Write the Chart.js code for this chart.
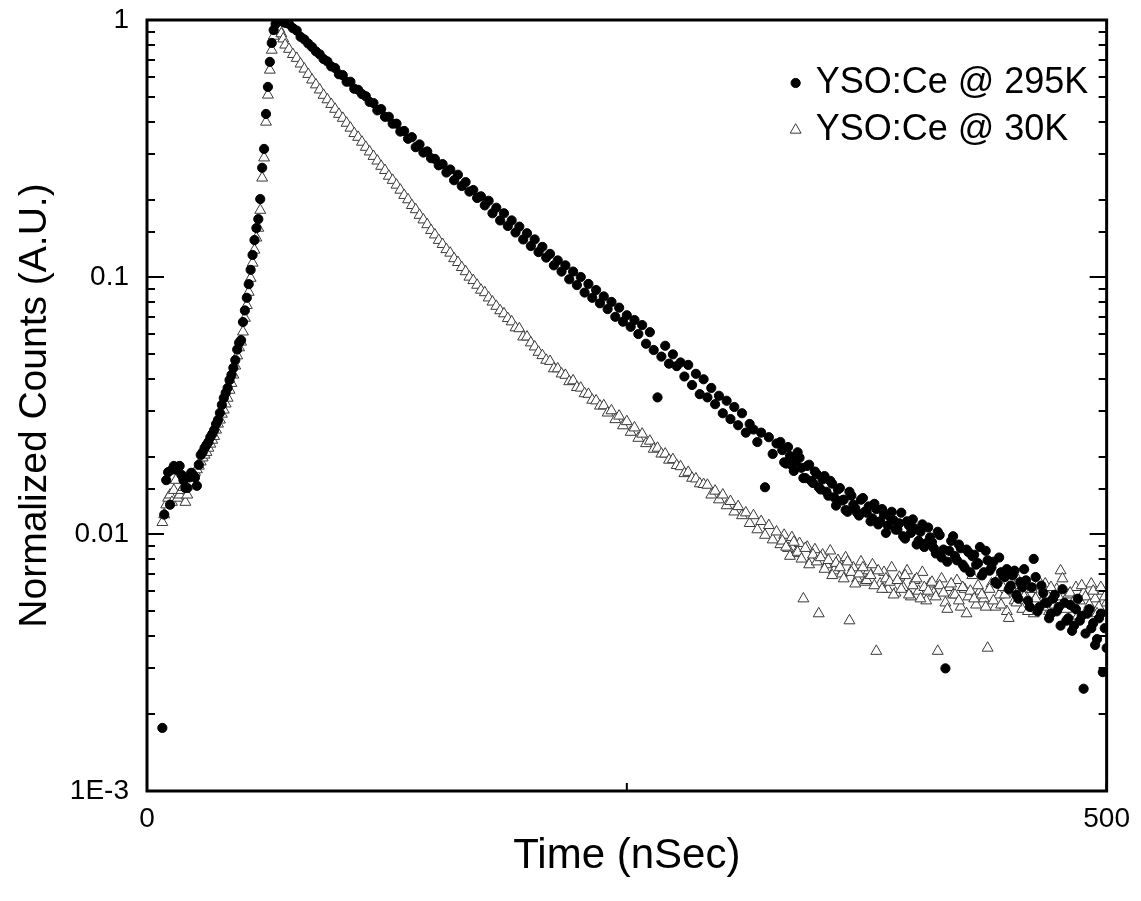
<!DOCTYPE html>
<html><head><meta charset="utf-8">
<script src="https://cdn.jsdelivr.net/npm/chart.js@4/dist/chart.umd.min.js"></script>
<style>html,body{margin:0;padding:0;background:#fff}#wrap{width:1141px;height:901px}</style>
</head><body><div id="wrap"><canvas id="c" width="1141" height="901"></canvas></div>
<script>
// ---- data (time in ns) ----
const riseTime = [8,9,10,11,12,13,14,15,16,17,18,19,20,21,22,23,24,25,26,27,28,29,30,31,32,33,34,35,36,37,38,39,
  40,41,42,43,44,45,46,47,48,49,50,51,52,53,54,55,56,57,58,59,60,61,62,63,64,65,66,67,68,69,70,71];
const decayTime = [72,74,76,78,80,82,84,86,88,90, 92,94,96,98,100,102,104,106,108,110,
  112,114,116,118,120,122,124,126,128,130, 132,134,136,138,140,142,144,146,148,150,
  152,154,156,158,160,162,164,166,168,170, 172,174,176,178,180,182,184,186,188,190,
  192,194,196,198,200,202,204,206,208,210, 212,214,216,218,220,222,224,226,228,230,
  232,234,236,238,240,242,244,246,248,250, 252,254,256,258,260,262,264,266,268,270,
  272,274,276,278,280,282,284,286,288,290, 292,294,296,298,300,302,304,306,308,310,
  312,314,316,318,320,322,324,326,328,330, 332,334,336,338,340,342,344,346,348,350,
  352,354,356,358,360,362,364,366,368,370, 372,374,376,378,380,382,384,386,388,390,
  392,394,396,398,400,402,404,406,408,410, 412,414,416,418,420,422,424,426,428,430,
  432,434,436,438,440,442,444,446,448,450, 452,454,456,458,460,462,464,466,468,470,
  472,474,476,478,480,482,484,486,488,490, 492,494,496,498,500];
const tailTime = [331,333,335,337,339,341,343,345,347,349, 351,353,355,357,359,361,363,365,367,369,
  371,373,375,377,379,381,383,385,387,389, 391,393,395,397,399,401,403,405,407,409,
  411,413,415,417,419,421,423,425,427,429, 431,433,435,437,439,441,443,445,447,449,
  451,453,455,457,459,461,463,465,467,469, 471,473,475,477,479,481,483,485,487,489,
  491,493,495,497,499];

const rise295 = [0.00176,0.0119,0.0162,0.0174,0.0130,0.0178,0.0184,0.0178,
  0.0181,0.0184,0.0170,0.0162,0.0151,0.0151,0.0166,0.0173,
  0.0170,0.0166,0.0154,0.0186,0.0203,0.0208,0.0216,0.0222,
  0.0228,0.0238,0.0245,0.0254,0.0268,0.0278,0.0296,0.0318,
  0.0338,0.0354,0.0370,0.0397,0.0416,0.0443,0.0475,0.0522,
  0.0555,0.0568,0.0668,0.0741,0.0830,0.0938,0.1066,0.1218,
  0.1392,0.155,0.168,0.201,0.266,0.315,0.431,0.549,
  0.687,0.814,0.914,0.965,0.991,1.0,0.995,0.985];
const decay295 = [0.975,0.965,0.93,0.91,0.86,0.84,0.81,0.785,0.755,0.735,
  0.705,0.69,0.66,0.65,0.615,0.61,0.575,0.575,0.54,0.535,
  0.515,0.505,0.48,0.475,0.445,0.45,0.42,0.42,0.395,0.395,
  0.368,0.37,0.345,0.35,0.32,0.328,0.305,0.308,0.29,0.288,
  0.272,0.275,0.255,0.262,0.238,0.25,0.226,0.234,0.215,0.218,
  0.203,0.206,0.19,0.198,0.177,0.186,0.166,0.177,0.158,0.166,
  0.149,0.157,0.14,0.148,0.132,0.14,0.125,0.131,0.119,0.123,
  0.111,0.116,0.105,0.111,0.098,0.105,0.093,0.1,0.087,0.094,
  0.083,0.089,0.079,0.084,0.075,0.08,0.07,0.076,0.067,0.071,
  0.064,0.068,0.06,0.065,0.055,0.061,0.052,0.034,0.049,0.054,
  0.046,0.05,0.045,0.0465,0.041,0.0455,0.038,0.042,0.035,0.04,
  0.034,0.037,0.032,0.0345,0.0295,0.033,0.028,0.0312,0.0265,0.0295,
  0.0248,0.0268,0.0255,0.0228,0.0248,0.0152,0.0238,0.0205,0.0225,0.0228,
  0.019,0.0218,0.0185,0.0192,0.0198,0.0165,0.0184,0.0161,0.0175,0.0152,
  0.0163,0.0146,0.0161,0.0139,0.0149,0.0135,0.0124,0.0146,0.013,0.0121,
  0.0136,0.0122,0.0128,0.0115,0.0125,0.0112,0.0119,0.0108,0.0122,0.0104,
  0.011,0.0098,0.0112,0.0101,0.0105,0.0094,0.0109,0.0092,0.0097,0.0088,
  0.0102,0.0081,0.0030,0.0086,0.0098,0.0079,0.0088,0.0074,0.0085,0.0082,
  0.0076,0.0089,0.0071,0.0079,0.0074,0.0065,0.0081,0.0069,0.0073,0.0063,
  0.0072,0.0056,0.0062,0.0066,0.0052,0.0080,0.0050,0.0063,0.0054,0.0047,
  0.0056,0.0050,0.0044,0.0054,0.0047,0.0042,0.0051,0.0046,0.0025,0.0049,
  0.0043,0.0037,0.0047,0.0029,0.0036];
const tail295 = [0.0212,0.0188,0.0201,0.0176,0.0208,0.0181,0.0165,0.0186,0.0158,0.0171,
  0.0149,0.0168,0.0141,0.0157,0.0129,0.0151,0.0136,0.0122,0.0141,0.0126,
  0.0118,0.0138,0.0121,0.0112,0.0131,0.0109,0.0125,0.0101,0.0117,0.0113,
  0.0104,0.0121,0.0096,0.0108,0.0114,0.0091,0.0102,0.0089,0.0106,0.0093,
  0.0084,0.0099,0.0087,0.0078,0.0094,0.0082,0.0091,0.0076,0.0087,0.0071,
  0.0083,0.0077,0.0069,0.0086,0.0072,0.0078,0.0064,0.0071,0.0068,0.0061,
  0.0069,0.0058,0.0065,0.0073,0.0055,0.0062,0.0068,0.0052,0.0059,0.0054,
  0.0049,0.0058,0.0052,0.0061,0.0046,0.0053,0.0044,0.0056,0.0048,0.0041,
  0.0051,0.0045,0.0039,0.0049,0.0043];

const rise30 = [0.0111,0.0119,0.0130,0.0138,0.0142,0.0133,0.0148,0.0162,
  0.0138,0.0142,0.0148,0.0152,0.0133,0.0142,0.0154,0.0159,
  0.0166,0.0174,0.0178,0.0184,0.0191,0.0198,0.0203,0.0208,
  0.0216,0.0224,0.0232,0.0240,0.0254,0.0268,0.0278,0.0293,
  0.0304,0.0321,0.0338,0.0363,0.0386,0.0416,0.0451,0.0494,
  0.0531,0.0559,0.0612,0.0692,0.0776,0.0873,0.0990,0.1134,
  0.1274,0.1420,0.155,0.182,0.243,0.291,0.401,0.511,
  0.639,0.764,0.866,0.914,0.931,0.92,0.885,0.845];
const decay30 = [0.80,0.77,0.735,0.71,0.675,0.645,0.615,0.585,0.56,0.535,
  0.51,0.49,0.47,0.45,0.43,0.415,0.397,0.38,0.362,0.35,
  0.335,0.32,0.307,0.295,0.283,0.27,0.26,0.247,0.238,0.228,
  0.218,0.208,0.2,0.19,0.183,0.174,0.167,0.16,0.152,0.146,
  0.139,0.134,0.128,0.124,0.118,0.114,0.109,0.105,0.1,0.097,
  0.093,0.089,0.087,0.083,0.08,0.077,0.074,0.072,0.069,0.067,
  0.0635,0.063,0.0585,0.0585,0.0555,0.0535,0.051,0.0495,0.0475,0.047,
  0.044,0.044,0.042,0.0415,0.0392,0.0395,0.0372,0.037,0.0352,0.035,
  0.0332,0.033,0.0315,0.0316,0.0296,0.0302,0.0279,0.0288,0.0264,0.0274,
  0.0249,0.0259,0.0236,0.0245,0.0225,0.023,0.0214,0.0216,0.0205,0.0205,
  0.0194,0.0195,0.0185,0.0183,0.0172,0.0174,0.0165,0.0164,0.0157,0.0156,
  0.0155,0.0142,0.0147,0.0136,0.0142,0.0129,0.0134,0.0122,0.0128,0.0118,
  0.0121,0.011,0.0118,0.0104,0.0112,0.0099,0.0108,0.0095,0.0102,0.0091,
  0.0099,0.0088,0.0097,0.0084,0.0092,0.0056,0.0089,0.0079,0.0087,0.0049,
  0.0083,0.0076,0.0086,0.0072,0.0079,0.0070,0.0081,0.0046,0.0074,0.0067,
  0.0078,0.0065,0.0072,0.0076,0.0035,0.0064,0.0071,0.0061,0.0074,0.0059,
  0.0068,0.0062,0.0072,0.0057,0.0066,0.0060,0.0071,0.0055,0.0064,0.0059,
  0.0035,0.0067,0.0054,0.0062,0.0058,0.0066,0.0052,0.0061,0.0057,0.0069,
  0.0053,0.0060,0.0056,0.0036,0.0064,0.0052,0.0058,0.0062,0.0050,0.0059,
  0.0055,0.0066,0.0051,0.0057,0.0061,0.0049,0.0058,0.0054,0.0064,0.0050,
  0.0057,0.0061,0.0072,0.0053,0.0058,0.0049,0.0062,0.0055,0.0059,0.0051,
  0.0064,0.0056,0.0052,0.0060,0.0054];
const tail30 = [0.0094,0.0089,0.0082,0.0093,0.0085,0.0080,0.0088,0.0076,0.0083,0.0078,
  0.0081,0.0073,0.0079,0.0069,0.0077,0.0074,0.0067,0.0078,0.0071,0.0064,
  0.0070,0.0074,0.0066,0.0069,0.0063,0.0072,0.0061,0.0067,0.0065,0.0058,
  0.0066,0.0061,0.0069,0.0058,0.0063,0.0067,0.0056,0.0062,0.0060,0.0065,
  0.0057,0.0063,0.0059,0.0051,0.0064,0.0058,0.0055,0.0062,0.0049,0.0060,
  0.0056,0.0063,0.0058,0.0052,0.0061,0.0055,0.0066,0.0053,0.0058,0.0047,
  0.0060,0.0054,0.0063,0.0057,0.0050,0.0061,0.0056,0.0065,0.0052,0.0058,
  0.0062,0.0053,0.0057,0.0067,0.0051,0.0059,0.0055,0.0048,0.0063,0.0057,
  0.0053,0.0060,0.0049,0.0062,0.0057];

const seriesLabels = ['YSO:Ce @ 295K', 'YSO:Ce @ 30K'];
const xTickValues = [0, 250, 500];
const xTickLabels = ['0', '', '500'];
const yTickValues = [0.001, 0.01, 0.1, 1];
const yTickLabels = ['1E-3', '0.01', '0.1', '1'];

// ---- build points ----
function pts(pairs) {
  const out = [];
  pairs.forEach(([times, vals]) => {
    times.forEach((t, i) => { if (vals[i] !== undefined) out.push({x: t, y: vals[i]}); });
  });
  return out;
}
const data295 = pts([[riseTime, rise295], [decayTime, decay295], [tailTime, tail295]]);
const data30 = pts([[riseTime, rise30], [decayTime, decay30], [tailTime, tail30]]);

const FONT = "'Liberation Sans', Arial, sans-serif";
const isDecade = v => Math.abs(Math.log10(v) - Math.round(Math.log10(v))) < 1e-6;

const frameTicks = {
  id: 'frameTicks',
  afterDatasetsDraw(chart) {
    const {ctx, chartArea: a, scales: {x, y}} = chart;
    ctx.save();
    ctx.strokeStyle = '#000';
    ctx.lineWidth = 2;
    ctx.beginPath();
    y.ticks.forEach(t => {
      const py = Math.round(y.getPixelForValue(t.value));
      const len = isDecade(t.value) ? 17 : 8;
      ctx.moveTo(a.left, py); ctx.lineTo(a.left + len, py);
      ctx.moveTo(a.right, py); ctx.lineTo(a.right - len, py);
    });
    x.ticks.forEach(t => {
      const px = x.getPixelForValue(t.value);
      ctx.moveTo(px, a.bottom); ctx.lineTo(px, a.bottom - 8);
    });
    ctx.stroke();
    ctx.lineWidth = 3;
    ctx.strokeRect(a.left, a.top, a.right - a.left, a.bottom - a.top);
    ctx.restore();
  }
};

const insideLegend = {
  id: 'insideLegend',
  afterDraw(chart) {
    const ctx = chart.ctx;
    const a = chart.chartArea;
    ctx.save();
    chart.data.datasets.forEach((ds, i) => {
      const cx = a.right - 311;
      const cy = a.top + 63 + i * 47;
      ctx.fillStyle = ds.backgroundColor;
      ctx.strokeStyle = ds.borderColor;
      ctx.lineWidth = ds.borderWidth;
      Chart.helpers.drawPoint(ctx, {pointStyle: ds.pointStyle, radius: ds.pointRadius, borderWidth: ds.borderWidth, rotation: 0}, cx, cy);
      ctx.fillStyle = '#000';
      ctx.font = "36px " + FONT;
      ctx.textBaseline = 'middle';
      ctx.textAlign = 'left';
      ctx.fillText(ds.label, cx + 20, cy);
    });
    ctx.restore();
  }
};

new Chart(document.getElementById('c'), {
  type: 'scatter',
  data: {
    datasets: [
      {label: seriesLabels[0], data: data295, pointStyle: 'circle', pointRadius: 4.6,
       backgroundColor: '#000', borderColor: '#000', borderWidth: 1},
      {label: seriesLabels[1], data: data30, pointStyle: 'triangle', pointRadius: 6.3,
       backgroundColor: '#fff', borderColor: '#3a3a3a', borderWidth: 1}
    ]
  },
  options: {
    responsive: false,
    animation: false,
    events: [],
    layout: {padding: {left: 0, right: 33, top: 20, bottom: 0}},
    plugins: {legend: {display: false}, tooltip: {enabled: false}},
    scales: {
      x: {
        type: 'linear', min: 0, max: 500, position: 'bottom',
        afterBuildTicks: s => { s.ticks = xTickValues.map(v => ({value: v})); },
        ticks: {autoSkip: false, maxRotation: 0, padding: 11, color: '#000',
          font: {family: FONT, size: 28},
          callback: v => { const i = xTickValues.indexOf(v); return i >= 0 ? xTickLabels[i] : ''; }},
        grid: {display: false, drawTicks: false},
        border: {display: false},
        title: {display: true, text: 'Time (nSec)', color: '#000',
          font: {family: FONT, size: 42}, padding: {top: 0, bottom: 19}},
        afterFit: s => { s.height = 110; }
      },
      y: {
        type: 'logarithmic', min: 0.001, max: 1, position: 'left',
        ticks: {autoSkip: false, padding: 18, color: '#000',
          font: {family: FONT, size: 28},
          callback: v => { const i = yTickValues.findIndex(d => Math.abs(d - v) < d * 1e-6); return i >= 0 ? yTickLabels[i] : ''; }},
        grid: {display: false, drawTicks: false},
        border: {display: false},
        title: {display: true, text: 'Normalized Counts (A.U.)', color: '#000',
          font: {family: FONT, size: 39}, padding: {top: 12, bottom: 0}},
        afterFit: s => { s.width = 147; s.paddingTop = 0; s.paddingBottom = 0; }
      }
    }
  },
  plugins: [frameTicks, insideLegend]
});
</script>
</body></html>
